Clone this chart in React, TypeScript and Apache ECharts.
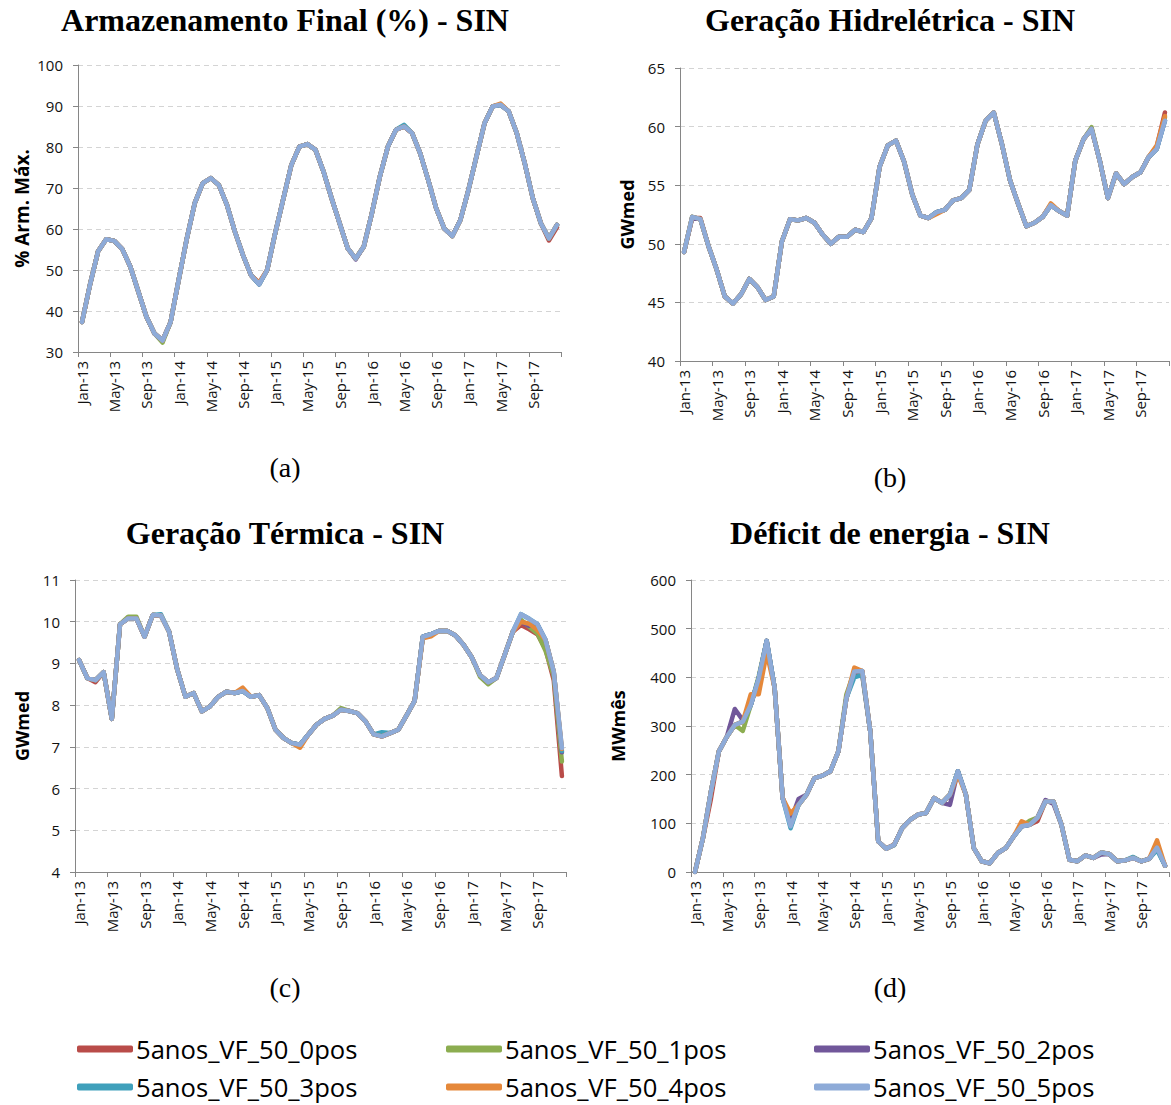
import React, { useEffect, useRef } from "react";
import * as echarts from "echarts";

const CATEGORIES = [
  "Jan-13", "Feb-13", "Mar-13", "Apr-13", "May-13", "Jun-13", "Jul-13", "Aug-13", "Sep-13", "Oct-13", "Nov-13", "Dec-13",
  "Jan-14", "Feb-14", "Mar-14", "Apr-14", "May-14", "Jun-14", "Jul-14", "Aug-14", "Sep-14", "Oct-14", "Nov-14", "Dec-14",
  "Jan-15", "Feb-15", "Mar-15", "Apr-15", "May-15", "Jun-15", "Jul-15", "Aug-15", "Sep-15", "Oct-15", "Nov-15", "Dec-15",
  "Jan-16", "Feb-16", "Mar-16", "Apr-16", "May-16", "Jun-16", "Jul-16", "Aug-16", "Sep-16", "Oct-16", "Nov-16", "Dec-16",
  "Jan-17", "Feb-17", "Mar-17", "Apr-17", "May-17", "Jun-17", "Jul-17", "Aug-17", "Sep-17", "Oct-17", "Nov-17", "Dec-17",
];

const SERIES_NAMES = [
  "5anos_VF_50_0pos",
  "5anos_VF_50_1pos",
  "5anos_VF_50_2pos",
  "5anos_VF_50_3pos",
  "5anos_VF_50_4pos",
  "5anos_VF_50_5pos",
];
const SERIES_COLORS = ["#b94c49", "#8cad50", "#71579a", "#3fa0bb", "#e5883a", "#8eabd8"];

// (a) Armazenamento Final (%) - series 5pos (drawn on top), others differ at a few months
const ARM_5POS = [
  37.3, 46.5, 54.6, 57.5, 57.1, 55.1, 50.8, 44.7, 38.6, 34.5, 32.8, 37.3,
  47.5, 57.5, 66.3, 71.2, 72.4, 70.7, 65.9, 59.3, 53.6, 48.7, 46.5, 50.0,
  59.0, 67.3, 75.6, 80.1, 80.7, 79.3, 74.0, 67.5, 61.4, 55.3, 52.8, 55.7,
  63.8, 72.8, 80.1, 84.2, 85.0, 83.4, 78.5, 72.0, 65.0, 60.1, 58.3, 62.2,
  69.5, 77.7, 85.8, 89.9, 90.3, 88.7, 83.4, 76.0, 67.5, 61.4, 57.7, 61.0,
];
const ARM_READINGS: Record<number, number>[] = [
  { 22: 46.9, 58: 57.2, 59: 60.4 },
  { 10: 32.3 },
  { 34: 52.6 },
  { 40: 85.4 },
  { 52: 90.6, 22: 46.8 },
  {},
];

// (b) Geração Hidrelétrica (GWmed)
const HID_5POS = [
  49.3, 52.3, 52.1, 49.8, 47.8, 45.5, 44.9, 45.7, 47.0, 46.3, 45.2, 45.5,
  50.2, 52.1, 52.0, 52.2, 51.8, 50.8, 50.0, 50.6, 50.6, 51.2, 51.0, 52.2,
  56.6, 58.4, 58.8, 57.0, 54.2, 52.4, 52.2, 52.7, 52.9, 53.7, 53.9, 54.6,
  58.5, 60.5, 61.2, 58.5, 55.4, 53.4, 51.5, 51.8, 52.3, 53.3, 52.8, 52.4,
  57.1, 58.9, 59.8, 57.1, 53.9, 56.0, 55.1, 55.7, 56.1, 57.4, 58.1, 60.5,
];
const HID_READINGS: Record<number, number>[] = [
  { 1: 52.2, 2: 52.2, 58: 58.3, 59: 61.2 },
  { 50: 59.95, 59: 60.8 },
  { 1: 52.25 },
  {},
  { 31: 52.55, 45: 53.45, 58: 58.4, 59: 60.9 },
  {},
];

// (c) Geração Térmica (GWmed)
const TER_5POS = [
  9.08, 8.65, 8.6, 8.79, 7.67, 9.94, 10.08, 10.08, 9.64, 10.16, 10.15, 9.76,
  8.85, 8.2, 8.29, 7.85, 7.97, 8.2, 8.32, 8.29, 8.34, 8.2, 8.24, 7.93,
  7.41, 7.21, 7.09, 7.05, 7.29, 7.53, 7.67, 7.75, 7.89, 7.86, 7.81, 7.61,
  7.3, 7.25, 7.33, 7.41, 7.75, 8.1, 9.64, 9.7, 9.78, 9.78, 9.67, 9.44,
  9.14, 8.72, 8.55, 8.65, 9.2, 9.76, 10.18, 10.07, 9.94, 9.56, 8.8, 6.97,
];
const TER_READINGS: Record<number, number>[] = [
  { 2: 8.55, 54: 9.92, 55: 9.82, 56: 9.7, 57: 9.35, 58: 8.6, 59: 6.3 },
  { 6: 10.12, 7: 10.12, 32: 7.93, 49: 8.68, 50: 8.5, 54: 10.05, 55: 9.88, 56: 9.72, 57: 9.3, 58: 8.7, 59: 6.65 },
  { 54: 10.0, 55: 9.9, 59: 6.87 },
  { 10: 10.18, 37: 7.35, 59: 6.9 },
  { 20: 8.42, 27: 6.98, 42: 9.6, 43: 9.65, 54: 10.0, 55: 9.95, 56: 9.8, 59: 6.95 },
  {},
];

// (d) Déficit de energia (MWmês)
const DEF_5POS = [
  0, 70, 165, 248, 278, 302, 309, 343, 398, 475, 378, 152,
  94, 138, 159, 193, 198, 207, 248, 357, 412, 413, 289, 63,
  48, 56, 90, 107, 118, 121, 152, 142, 159, 207, 159, 49,
  22, 18, 39, 49, 73, 94, 97, 112, 145, 145, 97, 25,
  22, 34, 29, 40, 37, 22, 24, 29, 22, 27, 50, 13,
];
const DEF_READINGS: Record<number, number>[] = [
  { 2: 150, 12: 110, 21: 405, 43: 105 },
  { 6: 290, 8: 402, 12: 100, 19: 365, 42: 105 },
  { 5: 335, 6: 312, 12: 105, 13: 150, 32: 138, 44: 148, 45: 140, 51: 36 },
  { 12: 90, 20: 400, 21: 405, 25: 55, 55: 31, 58: 45 },
  { 7: 365, 8: 365, 9: 450, 12: 120, 20: 420, 33: 200, 41: 104, 58: 65 },
  {},
];

function withReadings(base: number[], readings: Record<number, number>): number[] {
  const out = base.slice();
  Object.keys(readings).forEach((k) => {
    out[Number(k)] = readings[Number(k)];
  });
  return out;
}

const PANELS = [
  { base: ARM_5POS, readings: ARM_READINGS, min: 30, max: 100, interval: 10, name: "% Arm. Máx.", nameGap: 47, nameSize: 19,
    grid: { left: 78, top: 65, width: 483, height: 287 } },
  { base: HID_5POS, readings: HID_READINGS, min: 40, max: 65, interval: 5, name: "GWmed", nameGap: 44, nameSize: 18,
    grid: { left: 680, top: 68, width: 489, height: 293 } },
  { base: TER_5POS, readings: TER_READINGS, min: 4, max: 11, interval: 1, name: "GWmed", nameGap: 44, nameSize: 18,
    grid: { left: 75, top: 580, width: 491, height: 292 } },
  { base: DEF_5POS, readings: DEF_READINGS, min: 0, max: 600, interval: 100, name: "MWmês", nameGap: 64, nameSize: 18,
    grid: { left: 691, top: 580, width: 478, height: 292 } },
];

const TITLES = [
  { text: "Armazenamento Final (%) - SIN", x: 285, y: 4 },
  { text: "Geração Hidrelétrica - SIN", x: 890, y: 4 },
  { text: "Geração Térmica - SIN", x: 285, y: 517 },
  { text: "Déficit de energia - SIN", x: 890, y: 517 },
];
const SUBTITLES = [
  { text: "(a)", x: 285, y: 453 },
  { text: "(b)", x: 890, y: 463 },
  { text: "(c)", x: 285, y: 973 },
  { text: "(d)", x: 890, y: 973 },
];

const AXIS_GRAY = "#868686";
const TICK_FONT = "Open Sans";

export default function App() {
  const ref = useRef<HTMLDivElement>(null);
  useEffect(() => {
    if (!ref.current) return;
    const chart = echarts.init(ref.current, undefined, { renderer: "svg" });

    const title: any[] = [];
    TITLES.forEach((t) =>
      title.push({
        text: t.text, left: t.x, top: t.y, textAlign: "center", padding: 0,
        textStyle: { fontFamily: "Liberation Serif", fontWeight: "bold", fontSize: 32, color: "#000" },
      })
    );
    SUBTITLES.forEach((t) =>
      title.push({
        text: t.text, left: t.x, top: t.y, textAlign: "center", padding: 0,
        textStyle: { fontFamily: "Liberation Serif", fontWeight: "normal", fontSize: 28, color: "#000" },
      })
    );

    const grid = PANELS.map((p) => ({ ...p.grid, containLabel: false }));
    const xAxis = PANELS.map((_, i) => ({
      type: "category",
      gridIndex: i,
      data: CATEGORIES,
      boundaryGap: true,
      axisLine: { show: true, lineStyle: { color: AXIS_GRAY, width: 1 } },
      axisTick: { show: true, interval: 3, length: 5, lineStyle: { color: AXIS_GRAY } },
      axisLabel: { interval: 3, rotate: 90, fontSize: 15, fontFamily: TICK_FONT, color: "#111", margin: 9 },
      splitLine: { show: false },
    }));
    const yAxis = PANELS.map((p, i) => ({
      type: "value",
      gridIndex: i,
      min: p.min,
      max: p.max,
      interval: p.interval,
      name: p.name,
      nameLocation: "middle",
      nameGap: p.nameGap,
      nameTextStyle: { fontFamily: TICK_FONT, fontWeight: "bold", fontSize: p.nameSize, color: "#000" },
      axisLine: { show: true, lineStyle: { color: AXIS_GRAY, width: 1 } },
      axisTick: { show: true, length: 5, lineStyle: { color: AXIS_GRAY } },
      axisLabel: { fontSize: 15, fontFamily: TICK_FONT, color: "#111", margin: 15 },
      splitLine: { show: true, lineStyle: { color: "#d4d4d4", type: [5, 4], width: 1 } },
    }));

    const series: any[] = [];
    PANELS.forEach((p, pi) => {
      SERIES_NAMES.forEach((name, si) => {
        series.push({
          type: "line",
          name,
          xAxisIndex: pi,
          yAxisIndex: pi,
          data: withReadings(p.base, p.readings[si]),
          symbol: "none",
          smooth: false,
          lineStyle: { width: 4.5, color: SERIES_COLORS[si], cap: "round", join: "round" },
          itemStyle: { color: SERIES_COLORS[si] },
          z: 2 + si,
        });
      });
    });

    const legendCols = [77, 446, 814];
    const legendRows = [1036, 1074];
    const legend = SERIES_NAMES.map((name, i) => ({
      data: [name],
      left: legendCols[i % 3],
      top: legendRows[Math.floor(i / 3)],
      icon: "roundRect",
      itemWidth: 56,
      itemHeight: 7,
      padding: 0,
      textStyle: { fontFamily: TICK_FONT, fontSize: 25.6, color: "#000", padding: [0, 0, 0, -2] },
    }));

    chart.setOption({
      animation: false,
      backgroundColor: "#ffffff",
      title,
      grid,
      xAxis,
      yAxis,
      series,
      legend,
    });
    return () => chart.dispose();
  }, []);

  return (
    <div
      ref={ref}
      style={{ position: "absolute", left: 0, top: 0, width: 1171, height: 1105, background: "#fff" }}
    />
  );
}
